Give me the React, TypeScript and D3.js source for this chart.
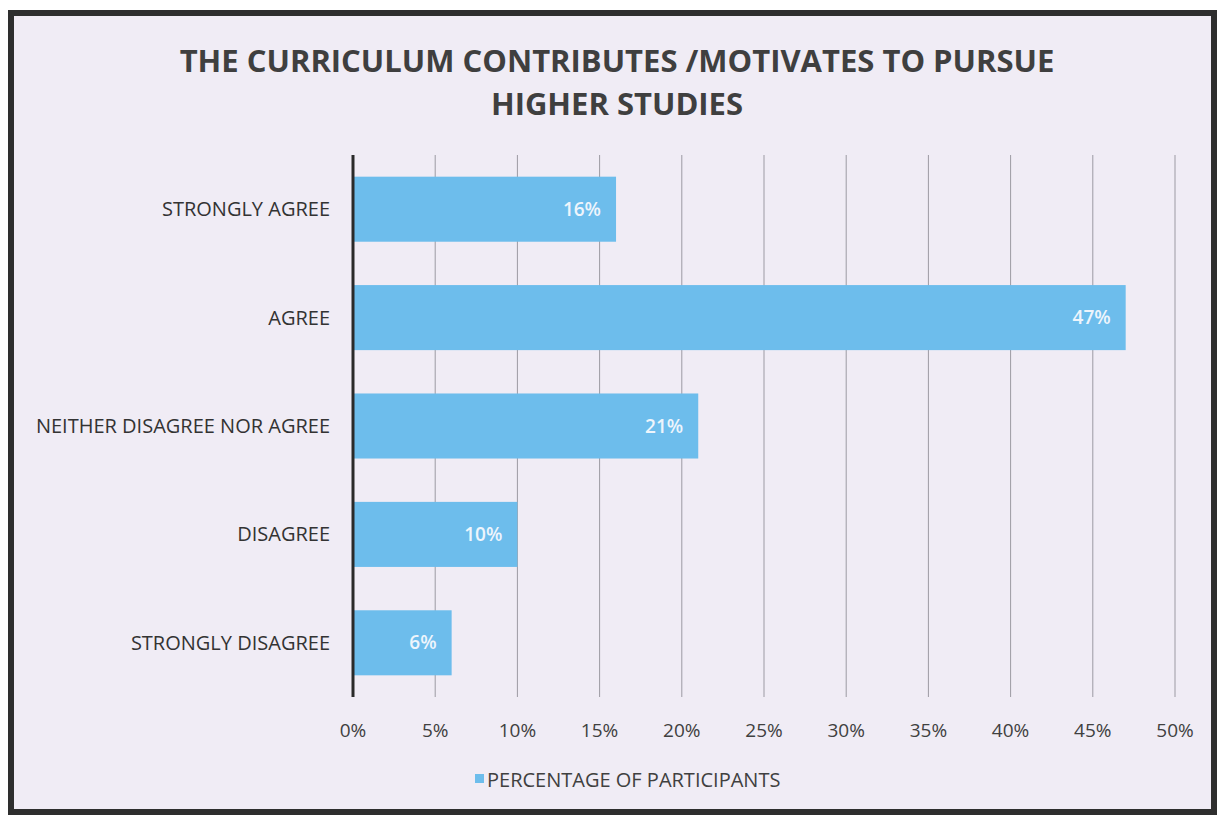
import * as d3 from "d3";

const categories: string[] = [
  "STRONGLY AGREE",
  "AGREE",
  "NEITHER DISAGREE NOR AGREE",
  "DISAGREE",
  "STRONGLY DISAGREE",
];
const percentages: number[] = [16, 47, 21, 10, 6];
const xTicks: number[] = [0, 5, 10, 15, 20, 25, 30, 35, 40, 45, 50];
const titleLines: string[] = [
  "THE CURRICULUM CONTRIBUTES /MOTIVATES TO PURSUE",
  "HIGHER STUDIES",
];
const seriesName = "PERCENTAGE OF PARTICIPANTS";

const W = 1219;
const H = 816;
const FONT = "'Open Sans', 'Liberation Sans', sans-serif";
const BAR = "#6dbdec";

export default function App() {
  const x = d3.scaleLinear().domain([0, 50]).range([353, 1175]);
  const y = d3.scaleBand().domain(categories).range([155, 697]).paddingInner(0.4).paddingOuter(0.2);

  return (
    <svg
      width={W}
      height={H}
      style={{ position: "absolute", left: 0, top: 0, background: "#fff" }}
    >
      <rect x={11} y={13} width={1203} height={799} fill="#f0ecf5" stroke="#2e2e2e" strokeWidth={6} />

      {titleLines.map((t, i) => (
        <text
          key={t}
          x={617}
          y={72 + i * 43}
          textAnchor="middle"
          fontFamily={FONT}
          fontWeight={700}
          fontSize={31}
          fill="#3f3f3f"
        >
          {t}
        </text>
      ))}

      {xTicks.map((t) => (
        <g key={t}>
          {t > 0 && (
            <line x1={x(t)} x2={x(t)} y1={155} y2={697} stroke="#9c9aa3" strokeWidth={1} />
          )}
          <text
            x={x(t)}
            y={737}
            textAnchor="middle"
            fontFamily={FONT}
            fontSize={19}
            fill="#404040"
          >
            {t}%
          </text>
        </g>
      ))}

      {categories.map((c, i) => {
        const yy = y(c) as number;
        const v = percentages[i];
        return (
          <g key={c}>
            <rect x={x(0)} y={yy} width={x(v) - x(0)} height={y.bandwidth()} fill={BAR} />
            <text
              x={x(v) - 15}
              y={yy + y.bandwidth() / 2}
              dy="0.35em"
              textAnchor="end"
              fontFamily={FONT}
              fontWeight={600}
              fontSize={19}
              fill="#eef5fc"
            >
              {v}%
            </text>
            <text
              x={330}
              y={yy + y.bandwidth() / 2}
              dy="0.35em"
              textAnchor="end"
              fontFamily={FONT}
              fontSize={20}
              fill="#333"
            >
              {c}
            </text>
          </g>
        );
      })}

      <line x1={x(0)} x2={x(0)} y1={155} y2={697} stroke="#2a2a2a" strokeWidth={3} />

      <rect x={475} y={774} width={9} height={9} fill={BAR} />
      <text x={487} y={787} fontFamily={FONT} fontSize={20} fill="#404040">
        {seriesName}
      </text>
    </svg>
  );
}
